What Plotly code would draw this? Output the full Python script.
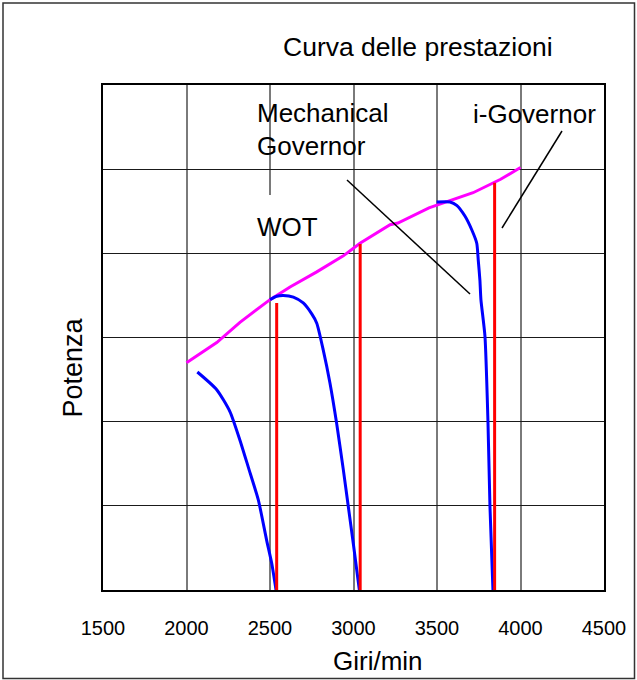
import plotly.graph_objects as go

# ---------------- data ----------------
x_ticks = [1500, 2000, 2500, 3000, 3500, 4000, 4500]

wot_rpm = [2000, 2181, 2320, 2500, 2620, 2780, 2939, 3039, 3219, 3266, 3452, 3575, 3716, 3881, 4000]
wot_power = [2.70, 2.94, 3.18, 3.45, 3.60, 3.78, 3.97, 4.12, 4.34, 4.36, 4.54, 4.62, 4.72, 4.88, 5.02]

gov1_rpm = [2065, 2181, 2260, 2320, 2370, 2430, 2480, 2510, 2536]
gov1_power = [2.59, 2.38, 2.12, 1.78, 1.46, 1.07, 0.59, 0.32, 0.0]

gov2_rpm = [2500, 2540, 2580, 2640, 2699, 2750, 2780, 2819, 2859, 2899, 2939, 2969, 2999, 3035]
gov2_power = [3.45, 3.49, 3.50, 3.48, 3.41, 3.28, 3.17, 2.85, 2.46, 1.98, 1.43, 0.99, 0.55, 0.0]

gov3_rpm = [3498, 3578, 3618, 3668, 3708, 3738, 3747, 3757, 3763, 3787, 3805, 3817, 3835]
gov3_power = [4.61, 4.61, 4.57, 4.44, 4.28, 4.12, 3.92, 3.68, 3.45, 3.02, 2.01, 1.00, 0.0]

igov_rpm = [2540, 3040, 3845]
igov_power_top = [3.41, 4.11, 4.84]

# ---------------- figure ----------------
W, H = 637, 680
L, R, T, B = 103, 33, 85, 90
PW, PH = W - L - R, H - T - B
font = "Arial, 'Liberation Sans', sans-serif"


def px_x(p):
    return 1500 + (p - L) / PW * 3000


def px_y(p):
    return (T + PH - p) / PH * 6


def paper_x(p):
    return (p - L) / PW


def paper_y(p):
    return (T + PH - p) / PH


fig = go.Figure()

fig.add_trace(go.Scatter(x=wot_rpm, y=wot_power, mode="lines",
                         line=dict(color="#ff00ff", width=3), hoverinfo="skip"))
for xs, ys in [(gov1_rpm, gov1_power), (gov2_rpm, gov2_power), (gov3_rpm, gov3_power)]:
    fig.add_trace(go.Scatter(x=xs, y=ys, mode="lines", line=dict(color="#0000ff", width=3, shape="spline", smoothing=0.6),
                             hoverinfo="skip"))

rx, ry = [], []
for r, top in zip(igov_rpm, igov_power_top):
    rx += [r, r, None]
    ry += [0, top, None]
fig.add_trace(go.Scatter(x=rx, y=ry, mode="lines", line=dict(color="#ff0000", width=3), hoverinfo="skip"))

shapes = [
    # outer frame
    dict(type="rect", xref="paper", yref="paper",
         x0=paper_x(3), x1=paper_x(634.5), y0=paper_y(678.5), y1=paper_y(3),
         line=dict(color="#333333", width=1.5), layer="below"),
    # gap in gridline under labels
    dict(type="rect", xref="x", yref="y", x0=2490, x1=2510, y0=px_y(217), y1=px_y(195),
         fillcolor="white", line=dict(width=0), layer="between"),
    # leader lines
    dict(type="line", xref="x", yref="y", x0=px_x(347), y0=px_y(180), x1=px_x(470), y1=px_y(294),
         line=dict(color="black", width=1.5)),
    dict(type="line", xref="x", yref="y", x0=px_x(562), y0=px_y(131), x1=px_x(502), y1=px_y(228),
         line=dict(color="black", width=1.5)),
]

ann_font = dict(family=font, size=26, color="black")
annotations = [
    dict(text="Curva delle prestazioni", xref="paper", yref="paper", x=paper_x(418), y=paper_y(47.5),
         xanchor="center", yanchor="middle", showarrow=False, font=dict(family=font, size=26.5, color="black")),
    dict(text="Mechanical", xref="x", yref="y", x=px_x(255), y=px_y(112.5),
         xanchor="left", yanchor="middle", showarrow=False, font=ann_font),
    dict(text="Governor", xref="x", yref="y", x=px_x(255), y=px_y(145.5),
         xanchor="left", yanchor="middle", showarrow=False, font=ann_font),
    dict(text="WOT", xref="x", yref="y", x=px_x(255), y=px_y(226.5),
         xanchor="left", yanchor="middle", showarrow=False, font=ann_font),
    dict(text="i-Governor", xref="x", yref="y", x=px_x(471), y=px_y(114),
         xanchor="left", yanchor="middle", showarrow=False, font=ann_font),
    dict(text="Giri/min", xref="paper", yref="paper", x=paper_x(378), y=paper_y(661),
         xanchor="center", yanchor="middle", showarrow=False, font=dict(family=font, size=26, color="black")),
    dict(text="Potenza", xref="paper", yref="paper", x=paper_x(72), y=paper_y(367.5),
         xanchor="center", yanchor="middle", textangle=-90, showarrow=False,
         font=dict(family=font, size=27, color="black")),
]

fig.update_layout(
    width=W, height=H,
    margin=dict(l=L, r=R, t=T, b=B, autoexpand=False),
    paper_bgcolor="white", plot_bgcolor="white",
    showlegend=False,
    shapes=shapes,
    annotations=annotations,
    font=dict(family=font, color="black"),
)
fig.update_xaxes(range=[1500, 4500], tickvals=x_ticks, ticktext=[str(v) for v in x_ticks],
                 showgrid=True, gridcolor="#7a7a7a", gridwidth=1.5,
                 showline=True, linecolor="black", linewidth=1.5, mirror=True,
                 ticks="outside", ticklen=19, tickcolor="rgba(0,0,0,0)",
                 tickfont=dict(family=font, size=20, color="black"), zeroline=False)
fig.update_yaxes(range=[0, 6], dtick=1, showticklabels=False,
                 showgrid=True, gridcolor="#1a1a1a", gridwidth=1,
                 showline=True, linecolor="black", linewidth=1.5, mirror=True,
                 ticks="", zeroline=False)

fig.write_html("out.html", config={"displayModeBar": False},
               post_script="document.body.style.margin='0';document.body.style.overflow='hidden';")
